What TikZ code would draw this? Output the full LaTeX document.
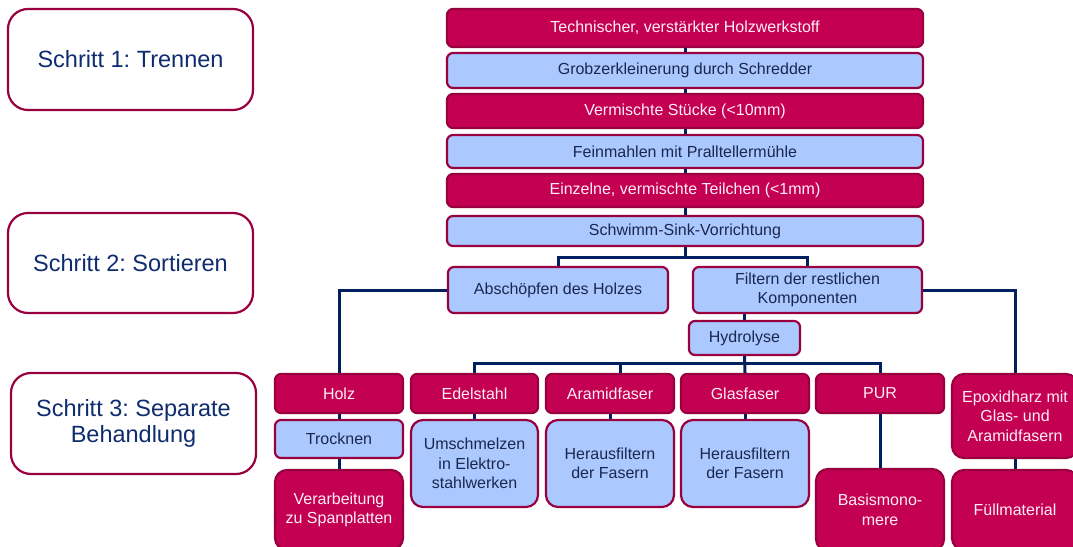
\documentclass[tikz,border=0pt]{standalone}
\usepackage{fontspec}
\setmainfont{Liberation Sans}
\usetikzlibrary{backgrounds}
\frenchspacing
\definecolor{crim}{HTML}{C40052}
\definecolor{crimdark}{HTML}{99003F}
\definecolor{lblue}{HTML}{ABC8FF}
\definecolor{navy}{HTML}{002060}
\definecolor{txtdark}{HTML}{1A2850}
\definecolor{steptxt}{HTML}{0F2D6E}
\definecolor{pinktxt}{HTML}{FFEEF5}
\tikzset{
  box/.style={draw=crimdark, line width=2.2pt, inner sep=0pt, align=center,
    font=\fontsize{16}{19.5}\selectfont, rounded corners=6pt},
  redbox/.style={box, fill=crim, text=pinktxt},
  bluebox/.style={box, fill=lblue, text=txtdark},
  stepbox/.style={draw=crimdark, line width=2.2pt, fill=white, inner sep=0pt, align=center,
    rounded corners=20pt, text=steptxt, font=\fontsize{23.5}{26}\selectfont,
    minimum width=245pt, minimum height=101pt},
  conn/.style={draw=navy, line width=3pt},
}
\begin{document}
\frenchspacing
\begin{tikzpicture}[x=1pt,y=-1pt]
\useasboundingbox (0,0) rectangle (1073,546);
\clip (0,0) rectangle (1073,546);

% step boxes
\node[stepbox] (s1) at (130.5,59.5) {Schritt 1: Trennen};
\node[stepbox, minimum height=100pt] (s2) at (130.5,263) {Schritt 2: Sortieren};
\node[stepbox] (s3) at (133.5,423.5) {Schritt 3: Separate\\Behandlung};

\coordinate (j1) at (685,257);
\coordinate (j2) at (745,363);

% main column
\node[redbox, minimum width=476pt, minimum height=38pt] (m1) at (685,28) {Technischer, verstärkter Holzwerkstoff};
\node[bluebox, minimum width=476pt, minimum height=35pt] (m2) at (685,70.5) {Grobzerkleinerung durch Schredder};
\node[redbox, minimum width=476pt, minimum height=34pt] (m3) at (685,111) {Vermischte Stücke (<10mm)};
\node[bluebox, minimum width=476pt, minimum height=33pt] (m4) at (685,151.5) {Feinmahlen mit Pralltellermühle};
\node[redbox, minimum width=476pt, minimum height=33pt] (m5) at (685,190.5) {Einzelne, vermischte Teilchen (<1mm)};
\node[bluebox, minimum width=476pt, minimum height=30pt] (m6) at (685,231) {Schwimm-Sink-Vorrichtung};

% second level
\node[bluebox, minimum width=220pt, minimum height=46pt] (ab) at (558,290) {Abschöpfen des Holzes};
\node[bluebox, minimum width=229pt, minimum height=46pt] (fi) at (807.5,290) {Filtern der restlichen\\Komponenten};
\node[bluebox, minimum width=111pt, minimum height=34pt] (hy) at (744.5,338) {Hydrolyse};

% row of materials
\node[redbox, minimum width=128pt, minimum height=39pt] (holz) at (339,393.5) {Holz};
\node[redbox, minimum width=127pt, minimum height=39pt] (edel) at (474.5,393.5) {Edelstahl};
\node[redbox, minimum width=128pt, minimum height=39pt] (aram) at (610,393.5) {Aramidfaser};
\node[redbox, minimum width=128pt, minimum height=39pt] (glas) at (745,393.5) {Glasfaser};
\node[redbox, minimum width=128pt, minimum height=39pt] (pur) at (880,393.5) {PUR};
\node[redbox, minimum width=126pt, minimum height=84pt, rounded corners=12pt] (epo) at (1015,416) {Epoxidharz mit\\Glas- und\\Aramidfasern};

% treatment row
\node[bluebox, minimum width=128pt, minimum height=38pt] (tro) at (339,439) {Trocknen};
\node[redbox, minimum width=128pt, minimum height=80pt, rounded corners=12pt] (vera) at (339,510) {Verarbeitung\\zu Spanplatten};
\node[bluebox, minimum width=127pt, minimum height=87pt, rounded corners=12pt] (ums) at (474.5,463.5) {Umschmelzen\\in Elektro-\\stahlwerken};
\node[bluebox, minimum width=128pt, minimum height=87pt, rounded corners=12pt] (her1) at (610,463.5) {Herausfiltern\\der Fasern};
\node[bluebox, minimum width=128pt, minimum height=87pt, rounded corners=12pt] (her2) at (745,463.5) {Herausfiltern\\der Fasern};
\node[redbox, minimum width=128pt, minimum height=82pt, rounded corners=12pt] (basis) at (880,510) {Basismono-\\mere};
\node[redbox, minimum width=126pt, minimum height=80pt, rounded corners=12pt] (fuell) at (1015,510) {Füllmaterial};

% connectors
\begin{scope}[on background layer]
\fill[white] (0,0) rectangle (1073,546);
\draw[conn] (m1.south) -- (m2.north);
\draw[conn] (m2.south) -- (m3.north);
\draw[conn] (m3.south) -- (m4.north);
\draw[conn] (m4.south) -- (m5.north);
\draw[conn] (m5.south) -- (m6.north);
\draw[conn] (m6.south) -- (j1);
\draw[conn] (ab.north) |- (j1) -| (fi.north);
\draw[conn] (ab.west) -| (holz.north);
\draw[conn] (fi.east) -| (epo.north);
\draw[conn] (hy.north) -- (hy.north |- fi.south);
\draw[conn] (hy.south) -- (glas.north);
\draw[conn] (edel.north) |- (j2) -| (pur.north);
\draw[conn] ([xshift=10pt]aram.north) -- ([xshift=10pt]aram.north |- j2);
\draw[conn] (holz.south) -- (tro.north);
\draw[conn] (tro.south) -- (vera.north);
\draw[conn] (edel.south) -- (ums.north);
\draw[conn] (aram.south) -- (her1.north);
\draw[conn] (glas.south) -- (her2.north);
\draw[conn] (pur.south) -- (basis.north);
\draw[conn] (epo.south) -- (fuell.north);
\end{scope}
\end{tikzpicture}
\end{document}
